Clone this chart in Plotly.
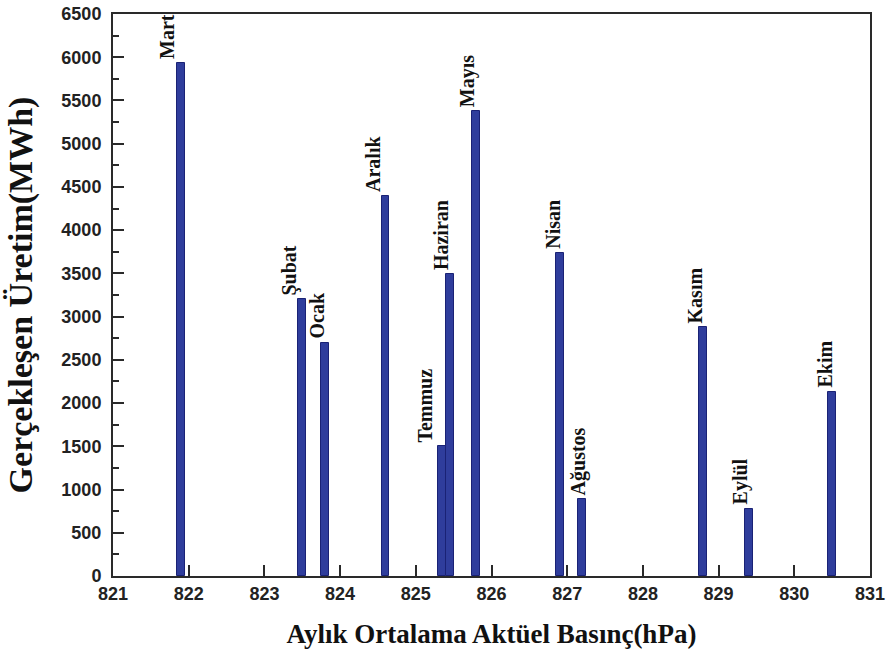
import plotly.graph_objects as go

# Monthly mean actual pressure (hPa) and realised production (MWh)
months = ["Mart", "Şubat", "Ocak", "Aralık", "Temmuz", "Haziran",
          "Mayıs", "Nisan", "Ağustos", "Kasım", "Eylül", "Ekim"]
pressure_hpa = [821.9, 823.5, 823.8, 824.6, 825.35, 825.45,
                825.8, 826.9, 827.2, 828.8, 829.4, 830.5]
production_mwh = [5930, 3200, 2700, 4390, 1500, 3490,
                  5380, 3740, 890, 2880, 780, 2130]

# horizontal nudges for the month labels (px)
label_shift = {"Mart": -14, "Şubat": -13, "Ocak": -8, "Aralık": -12,
               "Temmuz": -17, "Haziran": -9, "Mayıs": -9, "Nisan": -7,
               "Ağustos": -4, "Kasım": -8, "Eylül": -8, "Ekim": -7}

BAR_FILL = "#2f3d9c"
BAR_EDGE = "#1a2275"
AXIS = "#2a2a2a"

fig = go.Figure()
fig.add_trace(go.Bar(
    x=pressure_hpa,
    y=production_mwh,
    width=0.105,
    marker=dict(color=BAR_FILL, line=dict(color=BAR_EDGE, width=1)),
    showlegend=False,
))

for name, xv, yv in zip(months, pressure_hpa, production_mwh):
    fig.add_annotation(
        x=xv, y=yv, text=name, showarrow=False,
        textangle=-90, xanchor="center", yanchor="bottom",
        xshift=label_shift[name], yshift=2,
        font=dict(family="Liberation Serif", size=20, color="#111", weight="bold"),
    )

tick_font = dict(family="Liberation Sans", size=18, color="#222", weight="bold")

fig.update_layout(
    width=886, height=654,
    margin=dict(l=113, r=16, t=14, b=78, autoexpand=False),
    paper_bgcolor="white", plot_bgcolor="white",
    bargap=0,
    xaxis=dict(
        range=[821, 831], dtick=1, tick0=821, ticklabeloverflow="allow",
        showgrid=False, zeroline=False, automargin=False,
        showline=True, linecolor=AXIS, linewidth=2, mirror=True,
        ticks="inside", ticklen=11, tickwidth=2, tickcolor=AXIS,
        tickfont=tick_font,
        title=dict(text="Aylık Ortalama Aktüel Basınç(hPa)", standoff=22,
                   font=dict(family="Liberation Serif", size=27, color="#111", weight="bold")),
    ),
    yaxis=dict(
        range=[0, 6500], dtick=500, tick0=0, ticklabeloverflow="allow",
        showgrid=False, zeroline=False, automargin=False,
        showline=True, linecolor=AXIS, linewidth=2, mirror=True,
        ticks="inside", ticklen=11, tickwidth=2, tickcolor=AXIS,
        minor=dict(ticks="inside", ticklen=6, tickwidth=2, tickcolor=AXIS, dtick=250),
        tickfont=tick_font, ticklabelstandoff=6,
        title=dict(text="Gerçekleşen Üretim(MWh)", standoff=18,
                   font=dict(family="Liberation Serif", size=34, color="#111", weight="bold")),
    ),
)

fig.write_html("out.html")
